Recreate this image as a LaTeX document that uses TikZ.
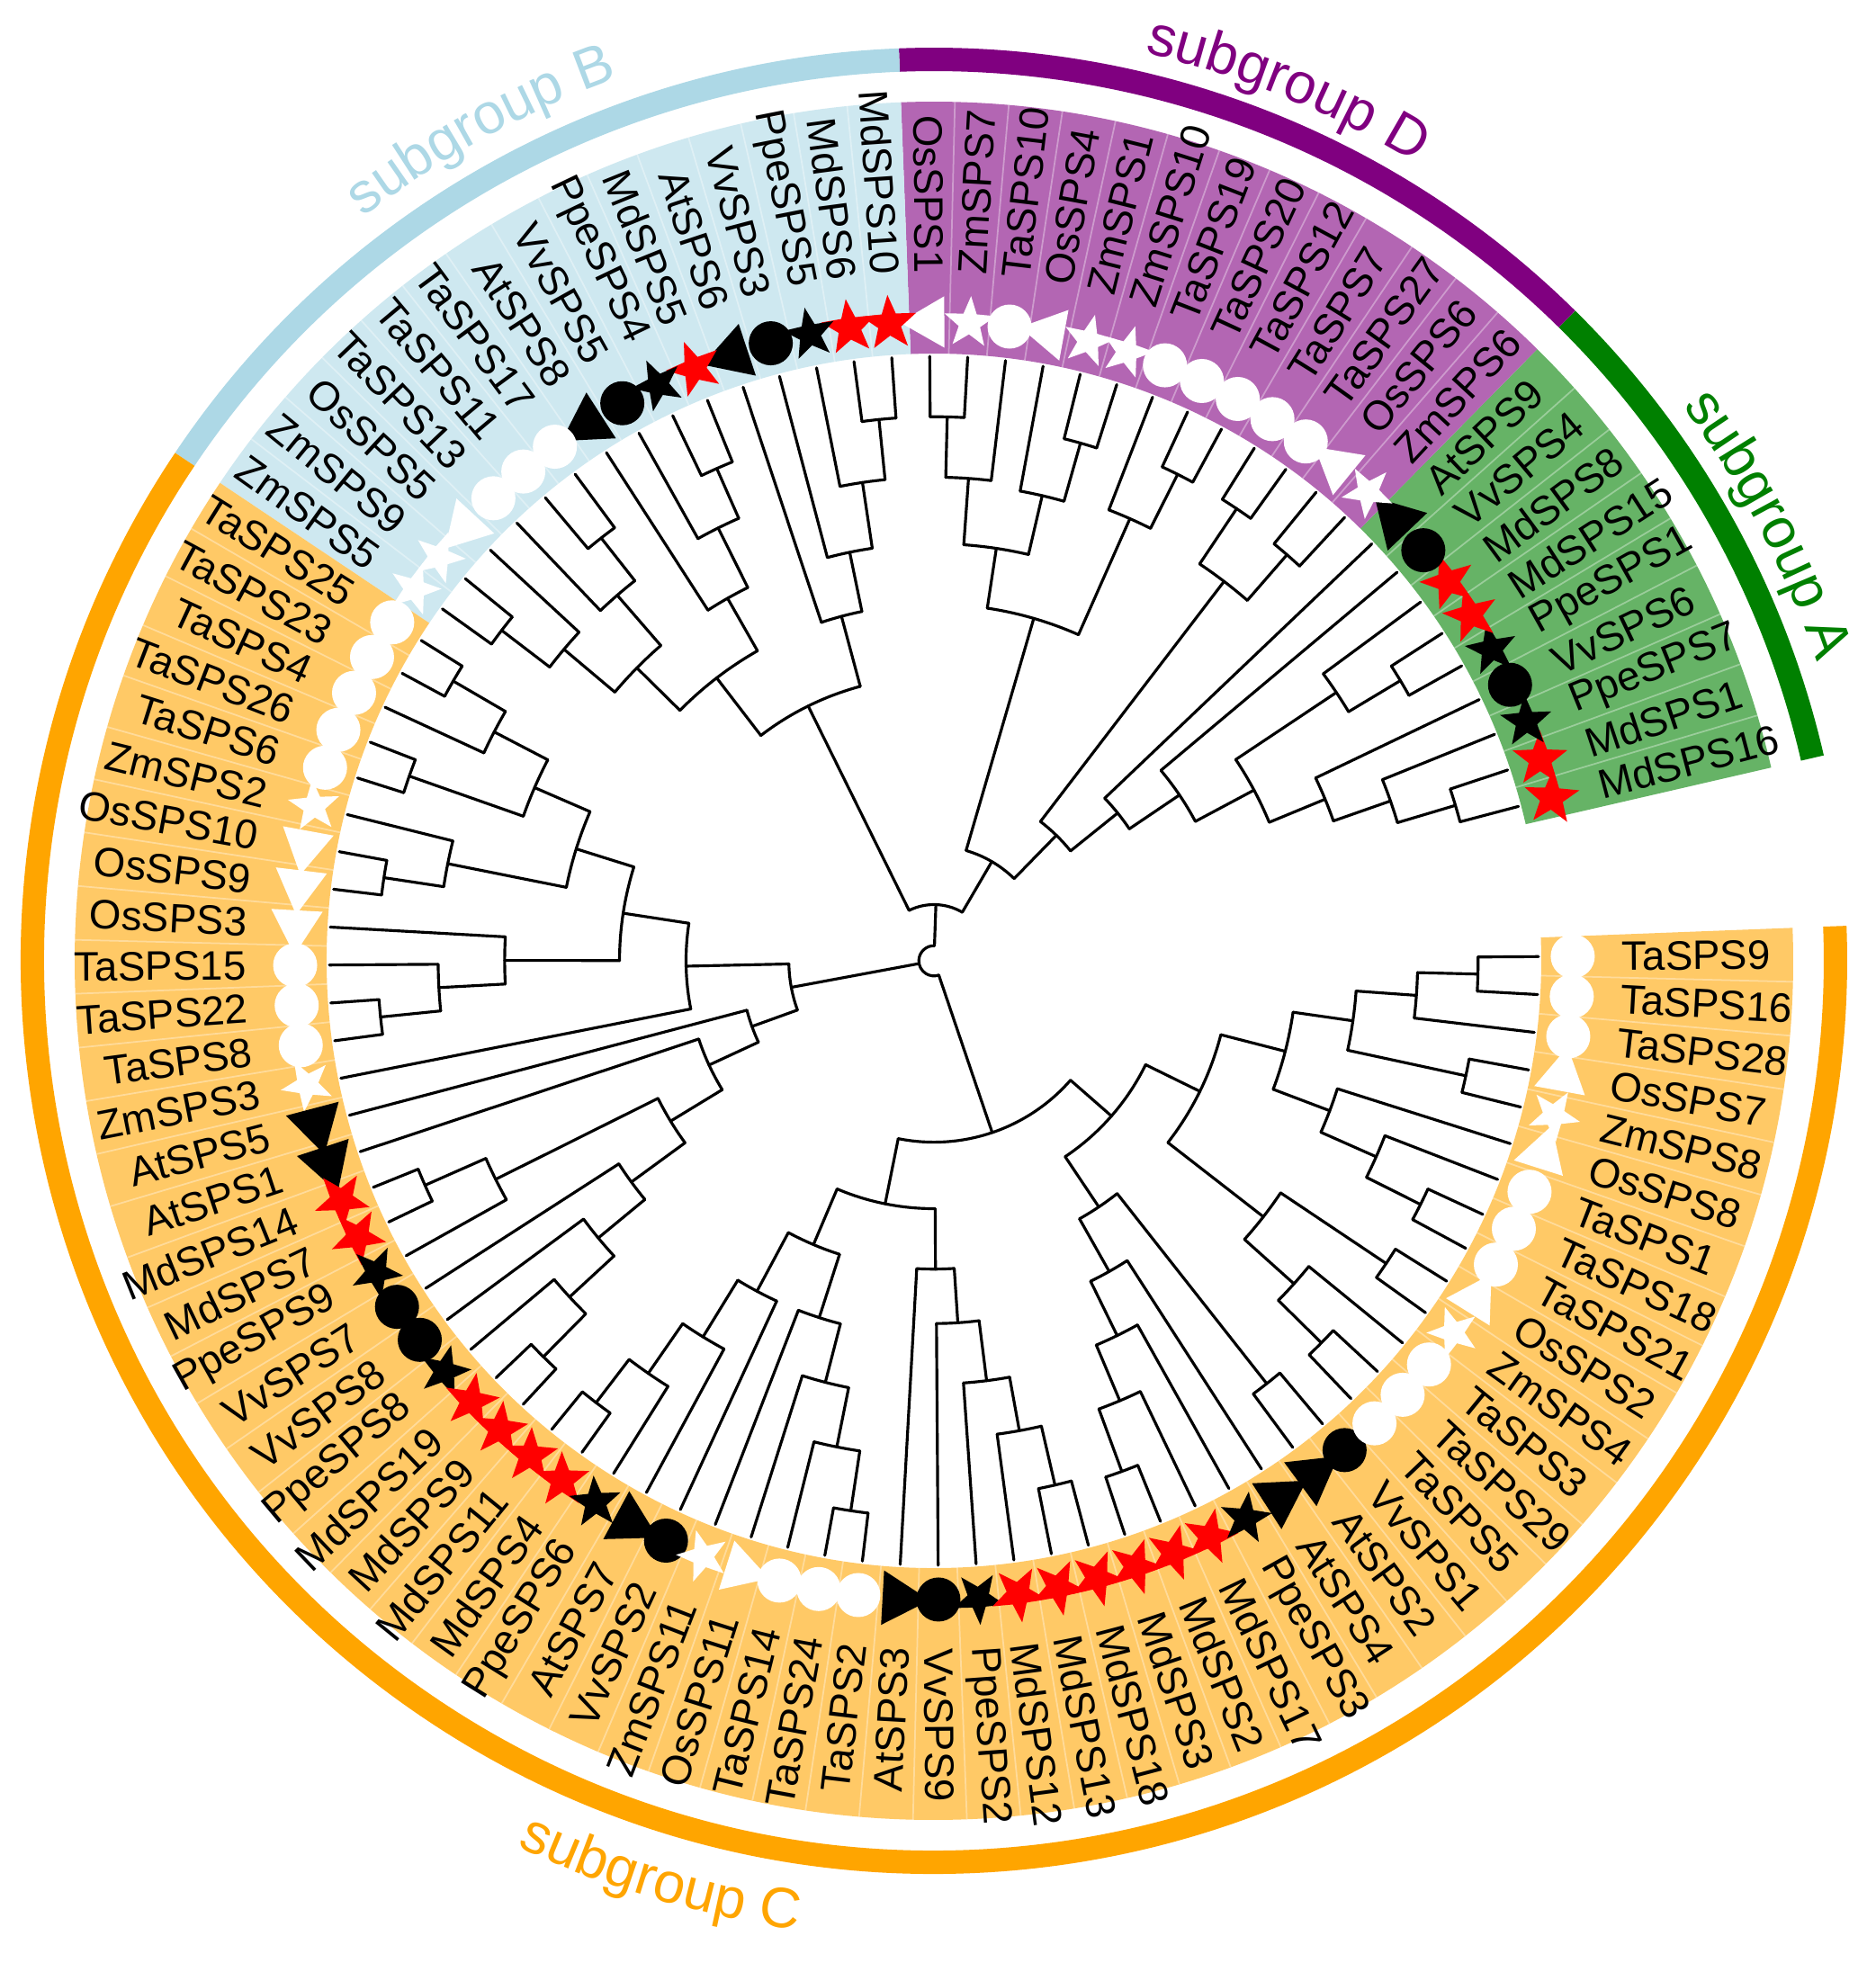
\documentclass[tikz,border=0pt]{standalone}
\usepackage{fontspec}
\setmainfont{Liberation Sans}
\usetikzlibrary{shapes.geometric,decorations.text}

\definecolor{colA}{RGB}{0,128,0}
\definecolor{colAs}{RGB}{102,179,102}
\definecolor{colD}{RGB}{128,0,128}
\definecolor{colDs}{RGB}{179,102,179}
\definecolor{colB}{RGB}{173,216,230}
\definecolor{colBs}{RGB}{206,232,240}
\definecolor{colC}{RGB}{255,165,0}
\definecolor{colCs}{RGB}{255,201,102}

\newcommand\labfont{\fontsize{13}{15}\selectfont}
\newcommand\ttlfont{\fontsize{18}{21}\selectfont}
\def\Rt{6.72}

% internal node of the circular cladogram: name, radius fraction, children
\newcommand\tnode[3]{%
  \pgfmathsetmacro\tnr{#2*\Rt}%
  \foreach \chld [count=\tnk] in {#3} {%
    \ifnum\tnk=1 \xdef\tfirst{\chld}\fi
    \xdef\tlast{\chld}}%
  \pgfmathsetmacro\tnaf{\csname A@\tfirst\endcsname}%
  \pgfmathsetmacro\tnal{\csname A@\tlast\endcsname}%
  \pgfmathsetmacro\tnam{(\tnaf+\tnal)/2}%
  \expandafter\xdef\csname A@#1\endcsname{\tnam}%
  \expandafter\xdef\csname R@#1\endcsname{\tnr}%
  \draw[treeline] (\tnaf:\tnr) arc[start angle=\tnaf, end angle=\tnal, radius=\tnr];
  \foreach \chld in {#3} {%
    \pgfmathsetmacro\tnca{\csname A@\chld\endcsname}%
    \pgfmathsetmacro\tnchr{\csname R@\chld\endcsname}%
    \draw[treeline] (\tnca:\tnr) -- (\tnca:\tnchr);}%
}

\tikzset{
  treeline/.style={line width=0.9pt, black, line cap=round},
  lab/.style={font=\labfont, inner sep=0pt, text=black},
  sepline/.style={white, opacity=0.35, line width=0.5pt},
  symrs/.style={star, star points=5, star point ratio=2.4, minimum size=0.64cm, inner sep=0pt, fill=red, rotate=#1-90},
  symbs/.style={star, star points=5, star point ratio=2.4, minimum size=0.60cm, inner sep=0pt, fill=black, rotate=#1-90},
  symws/.style={star, star points=5, star point ratio=2.4, minimum size=0.60cm, inner sep=0pt, fill=white, rotate=#1-90},
  symbc/.style={circle, minimum size=0.49cm, inner sep=0pt, fill=black},
  symwc/.style={circle, minimum size=0.49cm, inner sep=0pt, fill=white},
  symbt/.style={regular polygon, regular polygon sides=3, minimum size=0.70cm, inner sep=0pt, fill=black, rotate=#1},
  symwt/.style={regular polygon, regular polygon sides=3, minimum size=0.66cm, inner sep=0pt, fill=white, rotate=#1},
}

\begin{document}
\begin{tikzpicture}
\fill[white] (-10.38,-11.14) rectangle (10.47,10.68);
\useasboundingbox (-10.38,-11.14) rectangle (10.47,10.68);

% coloured sectors
\fill[colAs] (13.0:6.75) arc[start angle=13.0, end angle=45.4, radius=6.75] -- (45.4:9.55) arc[start angle=45.4, end angle=13.0, radius=9.55] -- cycle;
\fill[colDs] (45.4:6.75) arc[start angle=45.4, end angle=92.2, radius=6.75] -- (92.2:9.55) arc[start angle=92.2, end angle=45.4, radius=9.55] -- cycle;
\fill[colBs] (92.2:6.75) arc[start angle=92.2, end angle=146.2, radius=6.75] -- (146.2:9.55) arc[start angle=146.2, end angle=92.2, radius=9.55] -- cycle;
\fill[colCs] (146.2:6.75) arc[start angle=146.2, end angle=362.2, radius=6.75] -- (362.2:9.55) arc[start angle=362.2, end angle=146.2, radius=9.55] -- cycle;
\foreach \k in {1,...,96}{%
  \ifnum\k=9\relax\else\ifnum\k=22\relax\else\ifnum\k=37\relax\else
  \draw[sepline] ({13.0+3.6*\k}:6.75) -- ({13.0+3.6*\k}:9.55);
  \fi\fi\fi}

% outer group arcs
\draw[colA, line width=0.26cm] (13.0:10.02) arc[start angle=13.0, end angle=45.4, radius=10.02];
\draw[colD, line width=0.26cm] (45.4:10.02) arc[start angle=45.4, end angle=92.2, radius=10.02];
\draw[colB, line width=0.26cm] (92.2:10.02) arc[start angle=92.2, end angle=146.2, radius=10.02];
\draw[colC, line width=0.26cm] (146.2:10.02) arc[start angle=146.2, end angle=362.2, radius=10.02];

% group titles
\path[decorate, decoration={text along path, text={|\ttlfont\color{colD}|subgroup D}, text align=center}]
  (82.9:10.36) arc[start angle=82.9, end angle=52.9, radius=10.36];
\path[decorate, decoration={text along path, text={|\ttlfont\color{colB}|subgroup B}, text align=center}]
  (133.6:10.42) arc[start angle=133.6, end angle=103.6, radius=10.42];
\path[decorate, decoration={text along path, text={|\ttlfont\color{colA}|subgroup A}, text align=center}]
  (42.6:10.36) arc[start angle=42.6, end angle=12.6, radius=10.36];
\path[decorate, decoration={text along path, text={|\ttlfont\color{colC}|subgroup C}, text align=center}]
  (238.4:10.88) arc[start angle=238.4, end angle=268.4, radius=10.88];

% leaves
\foreach \i in {0,...,96}{%
  \pgfmathsetmacro\tmpa{14.8+3.6*\i}%
  \expandafter\xdef\csname A@L\i\endcsname{\tmpa}%
  \expandafter\xdef\csname R@L\i\endcsname{\Rt}}

% tree
\tnode{a7}{0.90}{L1,L0}
\tnode{a6}{0.80}{L2,a7}
\tnode{a5}{0.70}{L3,a6}
\tnode{a15}{0.90}{L5,L4}
\tnode{ax}{0.80}{L6,a15}
\tnode{a4}{0.60}{ax,a5}
\tnode{a3}{0.49}{L7,a4}
\tnode{a2}{0.39}{L8,a3}
\tnode{s1a}{0.90}{L12,L11}
\tnode{s1b}{0.89}{L10,L9}
\tnode{s1}{0.79}{s1a,s1b}
\tnode{a1}{0.29}{s1,a2}
\tnode{d1}{0.90}{L21,L20}
\tnode{d2}{0.80}{L19,d1}
\tnode{d3}{0.89}{L17,L16}
\tnode{d4}{0.79}{L18,d3}
\tnode{d5}{0.69}{d2,d4}
\tnode{d6}{0.90}{L14,L13}
\tnode{d7}{0.80}{L15,d6}
\tnode{d8}{0.59}{d5,d7}
\tnode{ad}{0.19}{d8,a1}
\tnode{b1}{0.90}{L23,L22}
\tnode{b2}{0.80}{L24,b1}
\tnode{b3}{0.69}{L25,b2}
\tnode{b4}{0.59}{L26,b3}
\tnode{b5}{0.89}{L28,L27}
\tnode{b6}{0.80}{L29,b5}
\tnode{b7}{0.69}{L30,b6}
\tnode{b8}{0.89}{L31,L32}
\tnode{b9}{0.80}{L33,b8}
\tnode{b10}{0.90}{L35,L36}
\tnode{b11}{0.80}{L34,b10}
\tnode{b12}{0.69}{b9,b11}
\tnode{b13}{0.59}{b7,b12}
\tnode{b14}{0.47}{b4,b13}
\tnode{adb}{0.093}{ad,b14}
\tnode{c1}{0.92}{L37,L38}
\tnode{c2}{0.82}{L39,c1}
\tnode{c3}{0.92}{L40,L41}
\tnode{c4}{0.72}{c2,c3}
\tnode{c5}{0.92}{L43,L44}
\tnode{c6}{0.82}{L42,c5}
\tnode{c7}{0.62}{c4,c6}
\tnode{c8}{0.92}{L47,L48}
\tnode{c9}{0.82}{L46,c8}
\tnode{c10}{0.71}{L45,c9}
\tnode{c11}{0.52}{c7,c10}
\tnode{c12}{0.41}{c11,L49}
\tnode{c13}{0.92}{L58,L59}
\tnode{c14}{0.82}{L57,c13}
\tnode{c15}{0.72}{L56,c14}
\tnode{c16}{0.62}{L55,c15}
\tnode{c17}{0.92}{L52,L53}
\tnode{c18}{0.81}{L54,c17}
\tnode{c19}{0.51}{c18,c16}
\tnode{c20}{0.41}{L51,c19}
\tnode{c21}{0.32}{L50,c20}
\tnode{cl}{0.24}{c12,c21}
\tnode{e1}{0.92}{L60,L61}
\tnode{e2}{0.83}{L62,e1}
\tnode{e3}{0.73}{L63,e2}
\tnode{e4}{0.62}{L64,e3}
\tnode{m1}{0.92}{L68,L69}
\tnode{m2}{0.82}{L67,m1}
\tnode{m3}{0.72}{L66,m2}
\tnode{m4}{0.62}{L65,m3}
\tnode{e5}{0.51}{e4,m4}
\tnode{f1}{0.89}{L74,L75}
\tnode{f2}{0.79}{L73,f1}
\tnode{f3}{0.70}{L72,f2}
\tnode{f4}{0.60}{L71,f3}
\tnode{f5}{0.51}{L70,f4}
\tnode{e6}{0.41}{e5,f5}
\tnode{g1}{0.90}{L76,L77}
\tnode{g2}{0.79}{L78,g1}
\tnode{g3}{0.69}{L79,g2}
\tnode{g4}{0.59}{L80,g3}
\tnode{g5}{0.89}{L81,L82}
\tnode{g6}{0.49}{g4,g5}
\tnode{h1}{0.90}{L83,L84}
\tnode{h2}{0.80}{L85,h1}
\tnode{h3}{0.90}{L86,L87}
\tnode{h4}{0.69}{h2,h3}
\tnode{h5}{0.90}{L88,L89}
\tnode{h6}{0.80}{L90,h5}
\tnode{h7}{0.70}{L91,h6}
\tnode{h8}{0.90}{L92,L93}
\tnode{h9}{0.90}{L95,L96}
\tnode{h10}{0.80}{L94,h9}
\tnode{h11}{0.70}{h8,h10}
\tnode{h12}{0.60}{h7,h11}
\tnode{h13}{0.49}{h4,h12}
\tnode{g7}{0.39}{g6,h13}
\tnode{cr}{0.30}{e6,g7}
\tnode{root}{0.025}{adb,cl,cr}

% symbols and labels
\foreach \i/\nm/\sy in {0/MdSPS16/rs, 1/MdSPS1/rs, 2/PpeSPS7/bs, 3/VvSPS6/bc, 4/PpeSPS1/bs,
  5/MdSPS15/rs, 6/MdSPS8/rs, 7/VvSPS4/bc, 8/AtSPS9/bt, 9/ZmSPS6/ws, 10/OsSPS6/wt,
  11/TaSPS27/wc, 12/TaSPS7/wc, 13/TaSPS12/wc, 14/TaSPS20/wc, 15/TaSPS19/wc, 16/ZmSPS10/ws,
  17/ZmSPS1/ws, 18/OsSPS4/wt, 19/TaSPS10/wc, 20/ZmSPS7/ws, 21/OsSPS1/wt, 22/MdSPS10/rs,
  23/MdSPS6/rs, 24/PpeSPS5/bs, 25/VvSPS3/bc, 26/AtSPS6/bt, 27/MdSPS5/rs, 28/PpeSPS4/bs,
  29/VvSPS5/bc, 30/AtSPS8/bt, 31/TaSPS17/wc, 32/TaSPS11/wc, 33/TaSPS13/wc, 34/OsSPS5/wt,
  35/ZmSPS9/ws, 36/ZmSPS5/ws, 37/TaSPS25/wc, 38/TaSPS23/wc, 39/TaSPS4/wc, 40/TaSPS26/wc,
  41/TaSPS6/wc, 42/ZmSPS2/ws, 43/OsSPS10/wt, 44/OsSPS9/wt, 45/OsSPS3/wt, 46/TaSPS15/wc,
  47/TaSPS22/wc, 48/TaSPS8/wc, 49/ZmSPS3/ws, 50/AtSPS5/bt, 51/AtSPS1/bt, 52/MdSPS14/rs,
  53/MdSPS7/rs, 54/PpeSPS9/bs, 55/VvSPS7/bc, 56/VvSPS8/bc, 57/PpeSPS8/bs, 58/MdSPS19/rs,
  59/MdSPS9/rs, 60/MdSPS11/rs, 61/MdSPS4/rs, 62/PpeSPS6/bs, 63/AtSPS7/bt, 64/VvSPS2/bc,
  65/ZmSPS11/ws, 66/OsSPS11/wt, 67/TaSPS14/wc, 68/TaSPS24/wc, 69/TaSPS2/wc, 70/AtSPS3/bt,
  71/VvSPS9/bc, 72/PpeSPS2/bs, 73/MdSPS12/rs, 74/MdSPS13/rs, 75/MdSPS18/rs, 76/MdSPS3/rs,
  77/MdSPS2/rs, 78/MdSPS17/rs, 79/PpeSPS3/bs, 80/AtSPS4/bt, 81/AtSPS2/bt, 82/VvSPS1/bc,
  83/TaSPS5/wc, 84/TaSPS29/wc, 85/TaSPS3/wc, 86/ZmSPS4/ws, 87/OsSPS2/wt, 88/TaSPS21/wc,
  89/TaSPS18/wc, 90/TaSPS1/wc, 91/OsSPS8/wt, 92/ZmSPS8/ws, 93/OsSPS7/wt, 94/TaSPS28/wc,
  95/TaSPS16/wc, 96/TaSPS9/wc}{%
  \pgfmathsetmacro\th{14.8+3.6*\i}%
  \pgfmathtruncatemacro\flip{and(\th>90,\th<270)}%
  \node[sym\sy=\th] (sym\i) at (\th:7.10) {};
  \ifnum\flip=1
    \node[lab, anchor=east, rotate=\th-180] (lab\i) at (\th:7.64) {\nm};
  \else
    \node[lab, anchor=west, rotate=\th] (lab\i) at (\th:7.64) {\nm};
  \fi
}
\end{tikzpicture}
\end{document}
